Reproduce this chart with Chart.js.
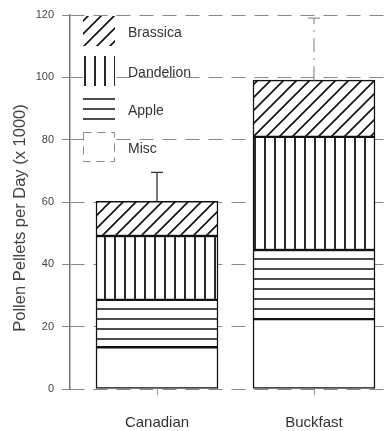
<!DOCTYPE html>
<html>
<head>
<meta charset="utf-8">
<script src="https://cdn.jsdelivr.net/npm/chart.js@4"></script>
<style>
  html, body { margin: 0; padding: 0; background: #fff; }
  #wrap { width: 384px; height: 431px; position: relative; }
</style>
</head>
<body>
<div id="wrap"><canvas id="c" width="384" height="431"></canvas></div>
<script>
// ---- data ----
const categories = ['Canadian', 'Buckfast'];
const misc       = [13.4, 22.4];
const apple      = [15.2, 22.2];
const dandelion  = [20.5, 36.3];
const brassica   = [11.1, 18.2];
const errorTop   = [69.5, 119];
const yTicks     = [0, 20, 40, 60, 80, 100, 120];
const yTitle     = 'Pollen Pellets per Day (x 1000)';

// ---- hatch patterns ----
function makePattern(size, draw) {
  const c = document.createElement('canvas');
  c.width = size; c.height = size;
  const g = c.getContext('2d');
  g.fillStyle = '#fff'; g.fillRect(0, 0, size, size);
  g.strokeStyle = '#111';
  draw(g, size);
  return g.createPattern(c, 'repeat');
}
const patDiag = makePattern(13, (g, s) => {
  g.lineWidth = 1.6;
  g.beginPath();
  g.moveTo(-2, s + 2); g.lineTo(s + 2, -2);
  g.moveTo(-2, 2); g.lineTo(2, -2);
  g.moveTo(s - 2, s + 2); g.lineTo(s + 2, s - 2);
  g.stroke();
});
const patVert = makePattern(10, (g, s) => {
  g.lineWidth = 1.8;
  g.beginPath(); g.moveTo(5, 0); g.lineTo(5, s); g.stroke();
});
const patHoriz = makePattern(10, (g, s) => {
  g.lineWidth = 1.5;
  g.beginPath(); g.moveTo(0, 9); g.lineTo(s, 9); g.stroke();
});
const white = '#ffffff';

const toXY = arr => arr.map((v, i) => ({ x: i + 1, y: v }));

const FONT = "'Liberation Sans', Arial, sans-serif";

// error bars
const errorBars = {
  id: 'errorBars',
  afterDatasetsDraw(chart) {
    const ctx = chart.ctx, xs = chart.scales.x, ys = chart.scales.y;
    categories.forEach((c, i) => {
      const top = misc[i] + apple[i] + dandelion[i] + brassica[i];
      const x = xs.getPixelForValue(i + 1);
      const y0 = ys.getPixelForValue(top), y1 = ys.getPixelForValue(errorTop[i]);
      ctx.save();
      if (i === 1) { ctx.strokeStyle = '#999'; ctx.setLineDash([14, 6, 2, 6]); }
      else { ctx.strokeStyle = '#333'; }
      ctx.lineWidth = 1.3;
      ctx.beginPath(); ctx.moveTo(x, y0); ctx.lineTo(x, y1); ctx.stroke();
      ctx.setLineDash([]);
      ctx.beginPath(); ctx.moveTo(x - 6, y1); ctx.lineTo(x + 6, y1); ctx.stroke();
      ctx.restore();
    });
  }
};

// legend + y title
const extras = {
  id: 'extras',
  afterDraw(chart) {
    const ctx = chart.ctx;
    const items = chart.data.datasets.slice().reverse();
    const boxX = 83, boxW = 32, boxH = 30, tops = [16, 56, 94, 132];
    ctx.save();
    items.forEach((ds, k) => {
      const y = tops[k];
      ctx.fillStyle = ds.backgroundColor;
      ctx.fillRect(boxX, y, boxW, boxH);
      if (ds.label === 'Misc') {
        ctx.strokeStyle = '#888'; ctx.lineWidth = 1; ctx.setLineDash([8, 6]);
        ctx.strokeRect(boxX + 0.5, y + 0.5, boxW - 1, boxH - 1);
        ctx.setLineDash([]);
      }
      ctx.fillStyle = '#333';
      ctx.font = '14px ' + FONT;
      ctx.textBaseline = 'middle';
      ctx.textAlign = 'left';
      ctx.fillText(ds.label, 128, y + boxH / 2 + 2);
    });
    // y axis title
    ctx.translate(20, 218);
    ctx.rotate(-Math.PI / 2);
    ctx.font = '16.5px ' + FONT;
    ctx.fillStyle = '#444';
    ctx.textAlign = 'center';
    ctx.textBaseline = 'middle';
    ctx.fillText(yTitle, 0, 0);
    ctx.restore();
  }
};

new Chart(document.getElementById('c'), {
  type: 'bar',
  data: {
    datasets: [
      { label: 'Misc',      data: toXY(misc),      backgroundColor: white },
      { label: 'Apple',     data: toXY(apple),     backgroundColor: patHoriz },
      { label: 'Dandelion', data: toXY(dandelion), backgroundColor: patVert },
      { label: 'Brassica',  data: toXY(brassica),  backgroundColor: patDiag }
    ].map(d => Object.assign(d, {
      borderColor: '#111', borderWidth: 1.5, borderSkipped: false, barThickness: 122
    }))
  },
  options: {
    responsive: false,
    animation: false,
    events: [],
    layout: { padding: { top: 15, right: 0, left: 0, bottom: 0 } },
    plugins: { legend: { display: false }, tooltip: { enabled: false } },
    scales: {
      x: {
        type: 'linear', stacked: true, offset: false,
        min: 1 - 87 / 157, max: 2 + 70 / 157,
        afterBuildTicks: s => { s.ticks = categories.map((c, i) => ({ value: i + 1 })); },
        afterFit: s => { s.height = 42; },
        ticks: {
          callback: v => categories[v - 1] || '',
          font: { family: FONT, size: 15 }, color: '#333', padding: 19, maxRotation: 0, autoSkip: false
        },
        grid: { offset: false, drawOnChartArea: false, drawTicks: true, tickLength: 6, color: '#999' },
        border: { display: false }
      },
      y: {
        stacked: true, min: 0, max: 120,
        afterBuildTicks: s => { s.ticks = yTicks.map(v => ({ value: v })); },
        afterFit: s => { s.width = 70; },
        ticks: { font: { family: FONT, size: 11 }, color: '#444', padding: 8 },
        grid: { color: '#888', lineWidth: 1, tickLength: 8 },
        border: { display: true, color: '#777', width: 1.5, dash: [14, 9] }
      }
    }
  },
  plugins: [errorBars, extras]
});
</script>
</body>
</html>
